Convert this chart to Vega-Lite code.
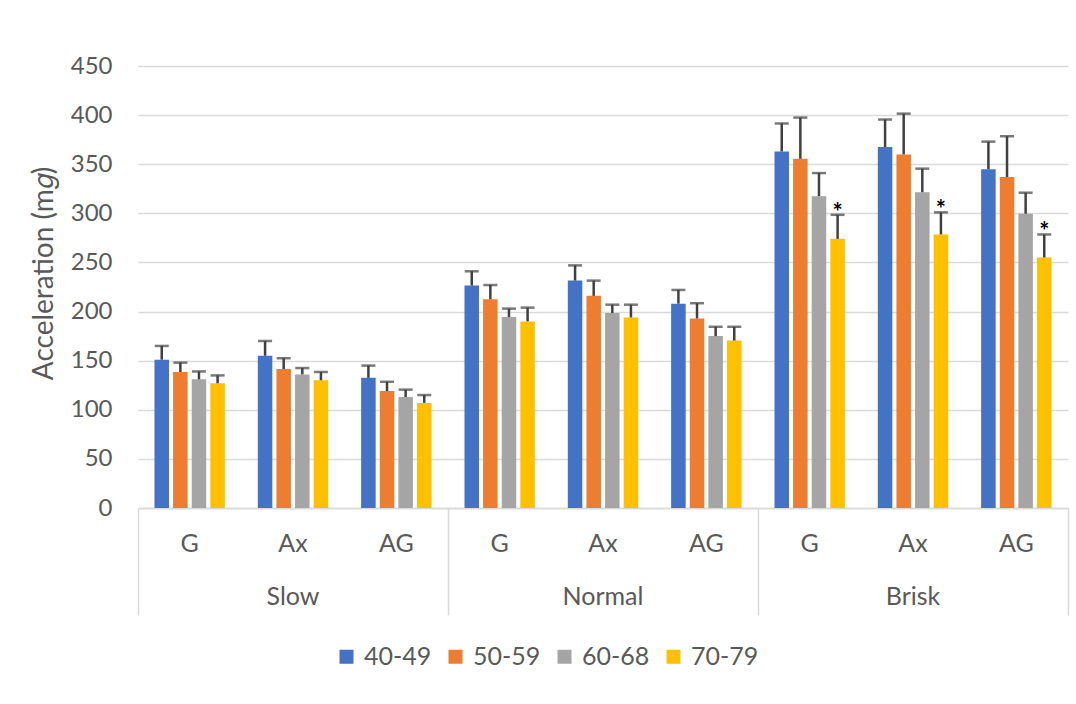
{
  "$schema": "https://vega.github.io/schema/vega-lite/v6.json",
  "width": 930,
  "height": 442,
  "autosize": {"type": "none"},
  "padding": {"left": 138, "top": 66, "right": 8, "bottom": 196},
  "background": "white",
  "config": {
    "view": {"stroke": null},
    "font": "Lato",
    "axisY": {
      "grid": true,
      "gridColor": "#d9d9d9",
      "gridWidth": 1.5,
      "domain": false,
      "ticks": false,
      "values": [0, 50, 100, 150, 200, 250, 300, 350, 400, 450],
      "labelFontSize": 24,
      "labelColor": "#595959",
      "labelPadding": 26,
      "titleFontSize": 28,
      "titleFontWeight": "normal",
      "titleColor": "#595959",
      "titlePadding": 12,
      "titleY": 207
    }
  },
  "data": {
    "values": [
      {"speed": "Slow", "sensor": "G", "age": "40-49", "mean": 151, "upper": 165, "sig": false},
      {"speed": "Slow", "sensor": "G", "age": "50-59", "mean": 138.5, "upper": 148, "sig": false},
      {"speed": "Slow", "sensor": "G", "age": "60-68", "mean": 131, "upper": 139, "sig": false},
      {"speed": "Slow", "sensor": "G", "age": "70-79", "mean": 127, "upper": 135, "sig": false},
      {"speed": "Slow", "sensor": "Ax", "age": "40-49", "mean": 155, "upper": 170, "sig": false},
      {"speed": "Slow", "sensor": "Ax", "age": "50-59", "mean": 141.5, "upper": 152.5, "sig": false},
      {"speed": "Slow", "sensor": "Ax", "age": "60-68", "mean": 136, "upper": 142.5, "sig": false},
      {"speed": "Slow", "sensor": "Ax", "age": "70-79", "mean": 130, "upper": 138.5, "sig": false},
      {"speed": "Slow", "sensor": "AG", "age": "40-49", "mean": 132.5, "upper": 145, "sig": false},
      {"speed": "Slow", "sensor": "AG", "age": "50-59", "mean": 119, "upper": 128.5, "sig": false},
      {"speed": "Slow", "sensor": "AG", "age": "60-68", "mean": 113, "upper": 120.5, "sig": false},
      {"speed": "Slow", "sensor": "AG", "age": "70-79", "mean": 107, "upper": 115, "sig": false},
      {"speed": "Normal", "sensor": "G", "age": "40-49", "mean": 226.5, "upper": 241, "sig": false},
      {"speed": "Normal", "sensor": "G", "age": "50-59", "mean": 212.5, "upper": 227, "sig": false},
      {"speed": "Normal", "sensor": "G", "age": "60-68", "mean": 194.5, "upper": 203, "sig": false},
      {"speed": "Normal", "sensor": "G", "age": "70-79", "mean": 190, "upper": 204, "sig": false},
      {"speed": "Normal", "sensor": "Ax", "age": "40-49", "mean": 231.5, "upper": 247, "sig": false},
      {"speed": "Normal", "sensor": "Ax", "age": "50-59", "mean": 216, "upper": 231.5, "sig": false},
      {"speed": "Normal", "sensor": "Ax", "age": "60-68", "mean": 198.5, "upper": 207, "sig": false},
      {"speed": "Normal", "sensor": "Ax", "age": "70-79", "mean": 194, "upper": 207, "sig": false},
      {"speed": "Normal", "sensor": "AG", "age": "40-49", "mean": 208, "upper": 222, "sig": false},
      {"speed": "Normal", "sensor": "AG", "age": "50-59", "mean": 193, "upper": 208.5, "sig": false},
      {"speed": "Normal", "sensor": "AG", "age": "60-68", "mean": 175, "upper": 184.5, "sig": false},
      {"speed": "Normal", "sensor": "AG", "age": "70-79", "mean": 170.5, "upper": 184.5, "sig": false},
      {"speed": "Brisk", "sensor": "G", "age": "40-49", "mean": 363, "upper": 391.5, "sig": false},
      {"speed": "Brisk", "sensor": "G", "age": "50-59", "mean": 355.5, "upper": 397.5, "sig": false},
      {"speed": "Brisk", "sensor": "G", "age": "60-68", "mean": 317.5, "upper": 341, "sig": false},
      {"speed": "Brisk", "sensor": "G", "age": "70-79", "mean": 274, "upper": 298.5, "sig": true},
      {"speed": "Brisk", "sensor": "Ax", "age": "40-49", "mean": 367.5, "upper": 395.5, "sig": false},
      {"speed": "Brisk", "sensor": "Ax", "age": "50-59", "mean": 360, "upper": 401.5, "sig": false},
      {"speed": "Brisk", "sensor": "Ax", "age": "60-68", "mean": 321.5, "upper": 345.5, "sig": false},
      {"speed": "Brisk", "sensor": "Ax", "age": "70-79", "mean": 278.5, "upper": 301, "sig": true},
      {"speed": "Brisk", "sensor": "AG", "age": "40-49", "mean": 345, "upper": 373, "sig": false},
      {"speed": "Brisk", "sensor": "AG", "age": "50-59", "mean": 337, "upper": 378.5, "sig": false},
      {"speed": "Brisk", "sensor": "AG", "age": "60-68", "mean": 299.5, "upper": 321, "sig": false},
      {"speed": "Brisk", "sensor": "AG", "age": "70-79", "mean": 255, "upper": 278.5, "sig": true}
    ]
  },
  "transform": [
    {"calculate": "datum.speed + '|' + datum.sensor", "as": "cell"}
  ],
  "encoding": {
    "x": {
      "field": "cell",
      "type": "nominal",
      "sort": ["Slow|G", "Slow|Ax", "Slow|AG", "Normal|G", "Normal|Ax", "Normal|AG", "Brisk|G", "Brisk|Ax", "Brisk|AG"],
      "scale": {"paddingInner": 0, "paddingOuter": 0}
    },
    "xOffset": {
      "field": "age",
      "type": "nominal",
      "scale": {"paddingInner": 0.22, "paddingOuter": 0.885}
    }
  },
  "layer": [
    {
      "mark": {"type": "bar"},
      "encoding": {
        "x": {
          "field": "cell",
          "type": "nominal",
          "sort": ["Slow|G", "Slow|Ax", "Slow|AG", "Normal|G", "Normal|Ax", "Normal|AG", "Brisk|G", "Brisk|Ax", "Brisk|AG"],
          "scale": {"paddingInner": 0, "paddingOuter": 0},
          "axis": {
            "orient": "bottom",
            "title": null,
            "grid": false,
            "bandPosition": 0,
            "labelExpr": "split(datum.value, '|')[1]",
            "labelAngle": 0,
            "labelFontSize": 25,
            "labelColor": "#595959",
            "labelPadding": -84,
            "tickSize": 107,
            "tickWidth": 1.5,
            "tickColor": "#d9d9d9",
            "tickOpacity": {"condition": {"test": "split(datum.value, '|')[1] == 'G'", "value": 1}, "value": 0},
            "domainColor": "#d9d9d9",
            "domainWidth": 1.5
          }
        },
        "y": {
          "field": "mean",
          "type": "quantitative",
          "title": "Acceleration (m𝑔)",
          "scale": {"domain": [0, 450], "nice": false}
        },
        "color": {
          "field": "age",
          "type": "nominal",
          "scale": {"domain": ["40-49", "50-59", "60-68", "70-79"], "range": ["#4472c4", "#ed7d31", "#a5a5a5", "#ffc000"]},
          "legend": {
            "title": null,
            "orient": "none",
            "direction": "horizontal",
            "legendX": 196,
            "legendY": 578,
            "symbolType": "square",
            "symbolSize": 196,
            "symbolStrokeWidth": 0,
            "symbolOpacity": 1,
            "labelFontSize": 25,
            "labelColor": "#595959",
            "labelOffset": 5,
            "columnPadding": 11
          }
        }
      }
    },
    {
      "mark": {"type": "rule", "color": "#404040", "strokeWidth": 2.5},
      "encoding": {
        "x": {
          "field": "cell",
          "type": "nominal",
          "sort": ["Slow|G", "Slow|Ax", "Slow|AG", "Normal|G", "Normal|Ax", "Normal|AG", "Brisk|G", "Brisk|Ax", "Brisk|AG"],
          "scale": {"paddingInner": 0, "paddingOuter": 0},
          "axis": {
            "orient": "bottom",
            "title": null,
            "grid": false,
            "domain": false,
            "bandPosition": 1,
            "labelExpr": "split(datum.value, '|')[1] == 'Ax' ? split(datum.value, '|')[0] : ''",
            "labelAngle": 0,
            "labelFontSize": 25,
            "labelColor": "#595959",
            "labelPadding": -31,
            "tickSize": 107,
            "tickWidth": 1.5,
            "tickColor": "#d9d9d9",
            "tickOpacity": {"condition": {"test": "datum.value == 'Brisk|AG'", "value": 1}, "value": 0}
          }
        },
        "y": {"field": "mean", "type": "quantitative", "title": "Acceleration (m𝑔)"},
        "y2": {"field": "upper"}
      }
    },
    {
      "mark": {"type": "tick", "color": "#404040", "size": 14, "thickness": 2.5},
      "encoding": {
        "x": {
          "field": "cell",
          "type": "nominal",
          "sort": ["Slow|G", "Slow|Ax", "Slow|AG", "Normal|G", "Normal|Ax", "Normal|AG", "Brisk|G", "Brisk|Ax", "Brisk|AG"],
          "axis": null
        },
        "y": {"field": "upper", "type": "quantitative", "title": "Acceleration (m𝑔)"}
      }
    },
    {
      "transform": [{"filter": "datum.sig"}],
      "mark": {"type": "text", "text": "*", "fontSize": 24, "fontWeight": "bold", "color": "#000000", "baseline": "alphabetic", "dy": 6},
      "encoding": {
        "x": {
          "field": "cell",
          "type": "nominal",
          "sort": ["Slow|G", "Slow|Ax", "Slow|AG", "Normal|G", "Normal|Ax", "Normal|AG", "Brisk|G", "Brisk|Ax", "Brisk|AG"],
          "axis": null
        },
        "y": {"field": "upper", "type": "quantitative", "title": "Acceleration (m𝑔)"}
      }
    }
  ],
  "resolve": {"axis": {"x": "independent"}}
}
